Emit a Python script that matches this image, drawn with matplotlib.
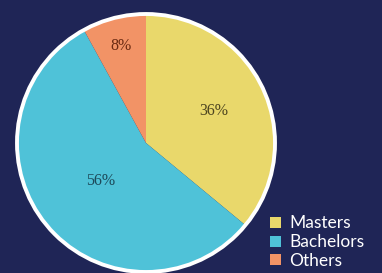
import matplotlib
matplotlib.use("Agg")
import matplotlib.pyplot as plt
import numpy as np
from matplotlib.patches import Circle

labels = ["Masters", "Bachelors", "Others"]
shares = [36, 56, 8]
colors = ["#e9d86b", "#4fc2d8", "#f29366"]
text_colors = ["#4d4520", "#1d4a5a", "#6a2a12"]
label_radius = [0.58, 0.46, 0.78]

BG = "#1f2556"

fig = plt.figure(figsize=(3.82, 2.73), dpi=100, facecolor=BG)
ax = fig.add_axes([0, 0, 1, 1])
ax.set_facecolor(BG)

wedges, _ = ax.pie(shares, colors=colors, startangle=90, counterclock=False,
                   wedgeprops={"linewidth": 0})

for w, share, tc, r in zip(wedges, shares, text_colors, label_radius):
    mid = np.deg2rad((w.theta1 + w.theta2) / 2)
    ax.text(r * np.cos(mid), r * np.sin(mid), f"{share}%", ha="center", va="center",
            fontsize=11.5, family="Liberation Serif", color=tc)

ax.add_patch(Circle((0, 0), 1.0, fill=False, edgecolor="white", linewidth=2.8))

R = 129
ax.set_xlim(-146 / R, (382 - 146) / R)
ax.set_ylim(-130 / R, 143 / R)
ax.set_aspect("auto")
ax.axis("off")

leg = fig.legend(wedges, labels, loc="lower left", bbox_to_anchor=(0.676, -0.03),
                 frameon=False, handlelength=0.6, handleheight=0.6, handletextpad=0.5,
                 labelspacing=0.16, borderpad=0.2,
                 prop={"family": "Lato", "size": 12.5})
for t in leg.get_texts():
    t.set_color("white")

fig.savefig("out.png", dpi=100, facecolor=BG)
